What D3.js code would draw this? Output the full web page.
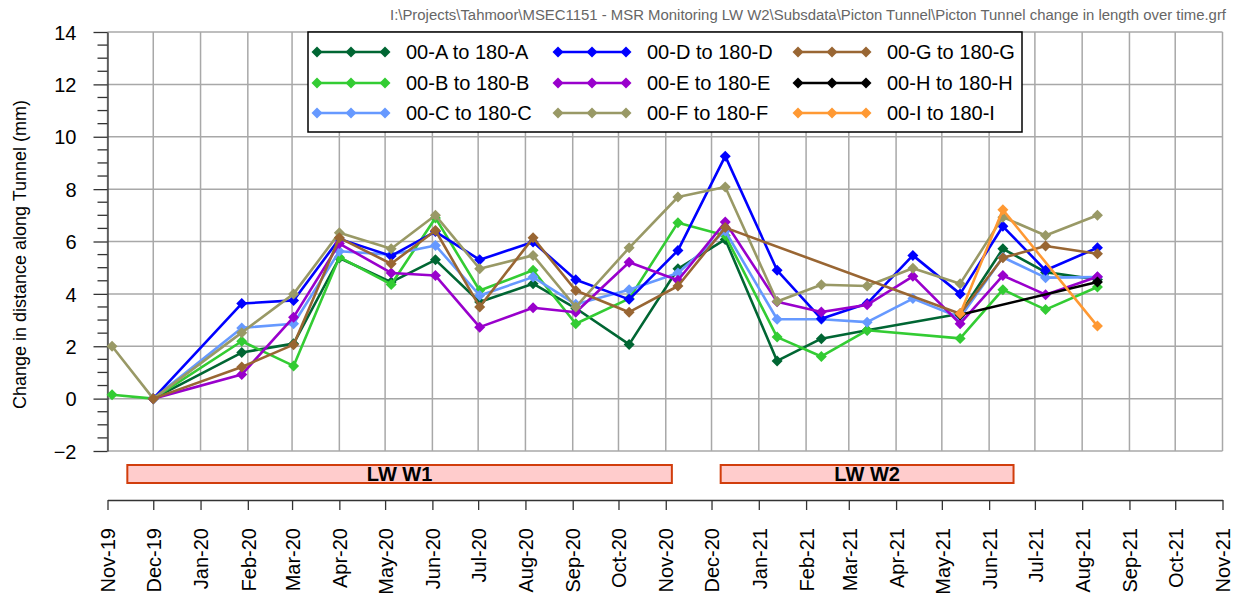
<!DOCTYPE html>
<html>
<head>
<meta charset="utf-8">
<style>
body { margin: 0; background: #fff; }
svg { font-family: "Liberation Sans", Arial, sans-serif; }
.grid line { stroke: #a8a8a8; stroke-width: 1.5px; }
.axis path, .axis line { stroke: #333; stroke-width: 1.3px; }
.axis text { font-size: 20px; fill: #000; }
.series { fill: none; stroke-width: 2.6px; stroke-linejoin: round; }
.legend text { font-size: 20px; }
.lw rect { fill: #ffcccc; stroke: #d13d0c; stroke-width: 2px; }
.lw text { font-size: 20px; font-weight: bold; text-anchor: middle; }
</style>
</head>
<body>
<svg width="1239" height="595"></svg>
<script src="https://cdn.jsdelivr.net/npm/d3@7"></script>
<script>
// survey dates
var dates = ["2019-11-04","2019-12-01","2020-01-28","2020-03-02","2020-04-01","2020-05-05",
  "2020-06-03","2020-07-02","2020-08-06","2020-09-03","2020-10-08","2020-11-09","2020-12-10",
  "2021-01-13","2021-02-11","2021-03-13","2021-04-12","2021-05-13","2021-06-10","2021-07-08","2021-08-11"];

var seriesNames = ["00-A to 180-A","00-B to 180-B","00-C to 180-C","00-D to 180-D","00-E to 180-E",
  "00-F to 180-F","00-G to 180-G","00-H to 180-H","00-I to 180-I"];
var seriesColors = ["#006633","#33cc33","#6699ff","#0000ff","#9900cc","#999966","#996633","#000000","#ff9933"];

var valA = [null,0,1.76,2.1,5.37,4.45,5.3,3.69,4.39,3.45,2.07,4.96,6.08,1.44,2.29,2.61,null,3.24,5.72,4.83,4.55];
var valB = [0.15,0,2.19,1.25,5.4,4.36,6.9,4.13,4.9,2.86,3.82,6.72,6.23,2.35,1.61,2.61,null,2.3,4.16,3.4,4.26];
var valC = [null,0,2.7,2.86,5.63,5.5,5.85,3.94,4.64,3.6,4.16,4.8,6.4,3.03,3.03,2.92,3.82,3.1,5.4,4.62,4.64];
var valD = [null,0,3.63,3.75,6.1,5.45,6.38,5.3,5.98,4.54,3.79,5.66,9.26,4.9,3.05,3.63,5.47,4.0,6.58,4.9,5.76];
var valE = [null,0,0.92,3.11,5.92,4.8,4.7,2.73,3.47,3.3,5.21,4.52,6.74,3.7,3.31,3.58,4.67,2.86,4.7,3.97,4.65];
var valF = [2.0,0,2.52,4.0,6.33,5.72,7.0,4.96,5.47,3.5,5.76,7.7,8.08,3.71,4.35,4.3,4.98,4.39,6.93,6.23,7.0];
var valG = [null,0,1.21,2.06,6.14,5.15,6.42,3.5,6.14,4.13,3.3,4.3,6.53,null,null,null,null,3.24,5.38,5.83,5.53];
var valH = [null,null,null,null,null,null,null,null,null,null,null,null,null,null,null,null,null,3.2,null,null,4.45];
var valI = [null,null,null,null,null,null,null,null,null,null,null,null,null,null,null,null,null,3.24,7.21,null,2.77];
var allValues = [valA,valB,valC,valD,valE,valF,valG,valH,valI];

// longwall extraction periods
var lwNames = ["LW W1","LW W2"];
var lwStart = ["2019-11-14","2020-12-07"];
var lwEnd = ["2020-11-05","2021-06-17"];

var yTicks = [-2,0,2,4,6,8,10,12,14];

var titleText = "I:\\Projects\\Tahmoor\\MSEC1151 - MSR Monitoring LW W2\\Subsdata\\Picton Tunnel\\Picton Tunnel change in length over time.grf";

var parse = d3.timeParse("%Y-%m-%d");
var svg = d3.select("svg");

var plotLeft = 107.5, plotRight = 1222.5, plotTop = 32, plotBottom = 451, axisY = 500;

var x = d3.scaleTime()
  .domain([new Date(2019,10,1), new Date(2021,10,1)])
  .range([plotLeft, plotRight]);
var y = d3.scaleLinear().domain([-2,14]).range([plotBottom, plotTop]);

var months = d3.timeMonth.range(new Date(2019,10,1), new Date(2021,10,2));

// title
svg.append("text")
  .attr("x", 1226).attr("y", 20)
  .attr("text-anchor", "end")
  .attr("textLength", 836).attr("lengthAdjust", "spacingAndGlyphs")
  .style("font-size", "14px").style("fill", "#666")
  .text(titleText);

// grid
var grid = svg.append("g").attr("class", "grid");
grid.selectAll(".v").data(months).enter().append("line")
  .attr("x1", function(d) { return x(d); }).attr("x2", function(d) { return x(d); })
  .attr("y1", plotTop).attr("y2", plotBottom);
grid.selectAll(".h").data(yTicks).enter().append("line")
  .attr("x1", plotLeft).attr("x2", plotRight)
  .attr("y1", function(d) { return y(d); }).attr("y2", function(d) { return y(d); });

// y axis
var gy = svg.append("g").attr("class", "axis")
  .attr("transform", "translate(" + plotLeft + ",0)")
  .call(d3.axisLeft(y).tickValues(yTicks).tickSize(14).tickPadding(17).tickSizeOuter(0));
gy.selectAll(".minor").data(d3.range(-2, 14.01, 0.5).filter(function(v) { return v % 2 != 0; }))
  .enter().append("line")
  .attr("x1", -10).attr("x2", 0)
  .attr("y1", function(d) { return y(d); }).attr("y2", function(d) { return y(d); });
gy.selectAll("text").attr("dy", "0.36em");

svg.append("text")
  .attr("transform", "translate(26," + ((plotTop + plotBottom) / 2 + 13) + ") rotate(-90)")
  .attr("text-anchor", "middle")
  .style("font-size", "18px")
  .text("Change in distance along Tunnel (mm)");

// x axis (separate, below the LW bars)
var gx = svg.append("g").attr("class", "axis")
  .attr("transform", "translate(0," + axisY + ")")
  .call(d3.axisBottom(x).tickValues(months).tickSize(10).tickSizeOuter(0)
    .tickFormat(d3.timeFormat("%b-%y")));
gx.selectAll("text")
  .attr("text-anchor", "end")
  .attr("transform", "translate(0,28) rotate(-90)")
  .attr("x", 0).attr("y", 0).attr("dy", "0.36em");

// LW bars
var lw = svg.append("g").attr("class", "lw");
lwNames.forEach(function(n, i) {
  var x0 = x(parse(lwStart[i])), x1 = x(parse(lwEnd[i]));
  lw.append("rect").attr("x", x0).attr("y", 465).attr("width", x1 - x0).attr("height", 18);
  lw.append("text").attr("x", (x0 + x1) / 2).attr("y", 481).text(n);
});

// series
var diamond = "M0,-5.5L5.5,0L0,5.5L-5.5,0Z";
var line = d3.line().x(function(d) { return x(d.date); }).y(function(d) { return y(d.v); });

allValues.forEach(function(vals, i) {
  var pts = [];
  vals.forEach(function(v, j) { if (v !== null) pts.push({date: parse(dates[j]), v: v}); });
  var g = svg.append("g");
  g.append("path").attr("class", "series").attr("d", line(pts)).attr("stroke", seriesColors[i]);
  g.selectAll("path.m").data(pts).enter().append("path")
    .attr("class", "m")
    .attr("d", diamond)
    .attr("transform", function(d) { return "translate(" + x(d.date) + "," + y(d.v) + ")"; })
    .attr("fill", seriesColors[i]);
});

// legend
var lg = svg.append("g").attr("class", "legend");
lg.append("rect").attr("x", 308).attr("y", 32).attr("width", 714).attr("height", 100)
  .attr("fill", "#fff").attr("stroke", "#000").attr("stroke-width", 1.5);
var colX = [317, 558, 798], rowY = [52, 83, 113];
seriesNames.forEach(function(n, i) {
  var cx = colX[Math.floor(i / 3)], cy = rowY[i % 3];
  lg.append("line").attr("x1", cx).attr("x2", cx + 68).attr("y1", cy).attr("y2", cy)
    .attr("stroke", seriesColors[i]).attr("stroke-width", 2.6);
  [0, 34, 68].forEach(function(o) {
    lg.append("path").attr("d", diamond).attr("fill", seriesColors[i])
      .attr("transform", "translate(" + (cx + o) + "," + cy + ")");
  });
  lg.append("text").attr("x", cx + 89).attr("y", cy).attr("dy", "0.36em").text(n);
});
</script>
</body>
</html>
